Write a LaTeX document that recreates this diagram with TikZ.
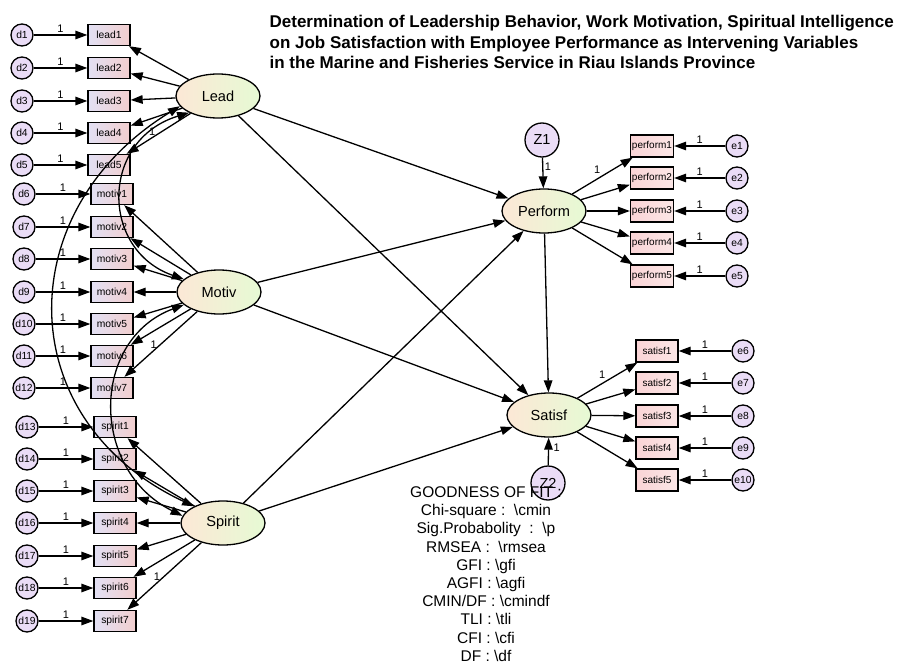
\documentclass[tikz,border=0pt]{standalone}
\usepackage{fontspec}
\setmainfont{Liberation Sans}
\usetikzlibrary{arrows.meta,positioning,shapes.geometric}

\definecolor{obsleft}{RGB}{226,224,244}
\definecolor{obsright}{RGB}{242,206,206}
\definecolor{outleft}{RGB}{250,212,214}
\definecolor{outright}{RGB}{251,230,230}
\definecolor{latleft}{RGB}{252,232,214}
\definecolor{latright}{RGB}{230,250,212}
\definecolor{errfill}{RGB}{234,220,246}

\begin{document}
\begin{tikzpicture}[x=1pt, y=-1pt, line width=1.3pt,
    >={Triangle[length=12pt,width=8.5pt]},
    obsbox/.style={draw, rectangle, minimum width=42pt, minimum height=21pt, inner sep=0pt,
        left color=obsleft, right color=obsright, font=\fontsize{10.3}{10.3}\selectfont},
    outbox/.style={draw, rectangle, minimum width=43pt, minimum height=22pt, inner sep=0pt,
        left color=outleft, right color=outright, font=\fontsize{10}{10}\selectfont},
    latent/.style={draw, ellipse, minimum width=84pt, minimum height=44pt, inner sep=0pt,
        left color=latleft, right color=latright, font=\fontsize{14.6}{14.6}\selectfont},
    errc/.style={draw, circle, minimum size=22pt, inner sep=0pt, fill=errfill,
        font=\fontsize{10.3}{10.3}\selectfont},
    distc/.style={errc, minimum size=34pt, font=\fontsize{14.5}{14.5}\selectfont},
    fixed/.style={font=\fontsize{11}{11}\selectfont, inner sep=1.5pt},
    link/.style={->},
    covar/.style={<->}]
    \useasboundingbox (0,0) rectangle (900,666);

    % Title
    \node[anchor=north west, align=left, inner sep=0pt,
        font=\bfseries\fontsize{17}{20.5}\selectfont] (title) at (269,15)
        {Determination of Leadership Behavior, Work Motivation, Spiritual Intelligence\\
         on Job Satisfaction with Employee Performance as Intervening Variables\\
         in the Marine and Fisheries Service in Riau Islands Province};

    % Latent variables
    \node[latent] (Lead) at (218,96) {Lead};
    \node[latent] (Motiv) at (219,292) {Motiv};
    \node[latent] (Spirit) at (223,523) {Spirit};
    \node[latent] (Perform) at (544,211) {Perform};
    \node[latent] (Satisf) at (549,415) {Satisf};

    % Indicators of Lead
    \foreach \i/\y in {1/35,2/68,3/101,4/133,5/165} {
        \node[errc] (d\i) at (22,\y) {d\i};
        \node[obsbox] (lead\i) at (109,\y) {lead\i};
        \draw[link] (d\i) -- node[fixed, above] {1} (lead\i);
        \draw[link] (Lead) -- (lead\i);
    }
    \path (Lead) -- node[fixed, pos=0.6, above] {1} (lead5);

    % Indicators of Motiv
    \foreach \i/\j/\y in {1/6/194,2/7/227,3/8/259,4/9/292,5/10/324,6/11/356,7/12/388} {
        \node[errc] (d\j) at (24,\y) {d\j};
        \node[obsbox] (motiv\i) at (112,\y) {motiv\i};
        \draw[link] (d\j) -- node[fixed, above] {1} (motiv\i);
        \draw[link] (Motiv) -- (motiv\i);
    }
    \path (Motiv) -- node[fixed, pos=0.6, above] {1} (motiv7);

    % Indicators of Spirit
    \foreach \i/\j/\y in {1/13/427,2/14/459,3/15/491,4/16/523,5/17/556,6/18/588,7/19/621} {
        \node[errc] (d\j) at (27,\y) {d\j};
        \node[obsbox] (spirit\i) at (115,\y) {spirit\i};
        \draw[link] (d\j) -- node[fixed, above] {1} (spirit\i);
        \draw[link] (Spirit) -- (spirit\i);
    }
    \path (Spirit) -- node[fixed, pos=0.6, above] {1} (spirit7);

    % Indicators of Perform
    \foreach \i/\y in {1/146,2/178,3/211,4/243,5/276} {
        \node[outbox] (perform\i) at (652,\y) {perform\i};
        \node[errc] (e\i) at (737,\y) {e\i};
        \draw[link] (e\i) -- node[fixed, above] {1} (perform\i);
        \draw[link] (Perform) -- (perform\i);
    }
    \path (Perform) -- node[fixed, above left] {1} (perform1);

    % Indicators of Satisf
    \foreach \i/\j/\y in {1/6/351,2/7/383,3/8/416,4/9/448,5/10/480} {
        \node[outbox, minimum width=42pt] (satisf\i) at (657,\y) {satisf\i};
        \node[errc] (e\j) at (743,\y) {e\j};
        \draw[link] (e\j) -- node[fixed, above] {1} (satisf\i);
        \draw[link] (Satisf) -- (satisf\i);
    }
    \path (Satisf) -- node[fixed, above left] {1} (satisf1);

    % Structural paths
    \draw[link] (Lead) -- (Perform);
    \draw[link] (Lead) -- (Satisf);
    \draw[link] (Motiv) -- (Perform);
    \draw[link] (Motiv) -- (Satisf);
    \draw[link] (Spirit) -- (Perform);
    \draw[link] (Spirit) -- (Satisf);
    \draw[link] (Perform) -- (Satisf);

    % Disturbances
    \node[distc] (Z1) at (542,140) {Z1};
    \node[distc] (Z2) at (548,483) {Z2};
    \draw[link] (Z1) -- node[fixed, pos=0.3, right] {1} (Perform);
    \draw[link] (Z2) -- node[fixed, pos=0.65, right=3pt] {1} (Satisf);

    % Covariances
    \draw[covar] (Lead.195) .. controls (10,210) and (10,420) .. (Spirit.150);
    \draw[covar] (Lead.210) .. controls (100,140) and (100,250) .. (Motiv.160);
    \draw[covar] (Motiv.200) .. controls (90,340) and (90,470) .. (Spirit.170);

    % Fit indices
    \node[align=center, font=\fontsize{15.5}{18.2}\selectfont] (fit) at (486,574)
        {GOODNESS OF FIT :\\
         Chi-square :\ \ \textbackslash cmin\\
         Sig.Probabolity\ \ :\ \ \textbackslash p\\
         RMSEA :\ \ \textbackslash rmsea\\
         GFI : \textbackslash gfi\\
         AGFI : \textbackslash agfi\\
         CMIN/DF : \textbackslash cmindf\\
         TLI : \textbackslash tli\\
         CFI : \textbackslash cfi\\
         DF : \textbackslash df};
\end{tikzpicture}
\end{document}
